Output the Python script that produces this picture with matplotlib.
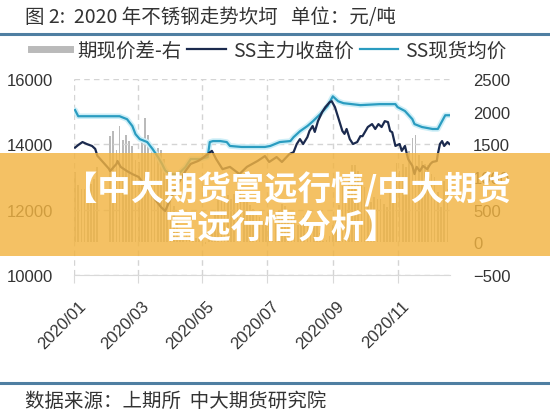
import pandas as pd
import matplotlib
matplotlib.use('Agg')
import matplotlib.pyplot as plt
import matplotlib.transforms as mtransforms
from matplotlib.lines import Line2D
from matplotlib.patches import Rectangle

plt.rcParams['font.family'] = ['Noto Sans CJK SC', 'DejaVu Sans']

# SS main contract close (left axis)
fut_dates = ['01-02', '01-05', '01-09', '01-13', '01-18', '01-21', '01-23', '02-03', '02-04',
             '02-10', '02-11', '02-14', '02-20', '02-25', '03-02', '03-09', '03-13', '03-17',
             '03-23', '03-27', '04-01', '04-08', '04-15', '04-20', '04-27', '04-30', '05-06',
             '05-10', '05-14', '05-20', '05-27', '06-05', '06-12', '06-22', '06-29', '07-03',
             '07-10', '07-15', '07-22', '07-26', '07-29', '08-01', '08-04', '08-08', '08-10',
             '08-13', '08-15', '08-18', '08-22', '08-25', '08-29', '08-31', '09-03', '09-06',
             '09-10', '09-12', '09-14', '09-17', '09-20', '09-24', '09-27', '09-29', '10-04',
             '10-08', '10-11', '10-14', '10-17', '10-20', '10-23', '10-25', '10-27', '10-30',
             '11-03', '11-05', '11-08', '11-11', '11-15', '11-17', '11-19', '11-22', '11-25',
             '11-29', '12-02', '12-04', '12-08', '12-09', '12-11', '12-13', '12-15', '12-18',
             '12-20']
fut_close = [13900, 13980, 14070, 14010, 13950, 13860, 13650, 13250, 13180,
             13400, 13490, 13310, 13180, 13090, 13000, 12690, 12540, 12330,
             12080, 11960, 12330, 12790, 13180, 13400, 13490, 13550, 13700,
             13800, 13550, 13240, 13310, 13090, 13310, 13490, 13640, 13460,
             13610, 13460, 13700, 13760, 14010, 14160, 14010, 14220, 14410,
             14560, 14380, 14710, 14990, 15140, 15290, 15320, 15140, 14830,
             14410, 14320, 14470, 14160, 14010, 14070, 14250, 14250, 14530,
             14620, 14470, 14620, 14530, 14710, 14680, 14410, 14370, 13950,
             14010, 13800, 13950, 13550, 13340, 13090, 13310, 13180, 13340,
             13240, 13400, 13460, 13490, 13700, 14010, 14100, 13950, 14070,
             14010]

# SS spot average price (left axis)
spot_dates = ['01-02', '01-05', '01-23', '02-03', '02-13', '02-20', '02-25', '02-28', '03-03',
              '03-10', '03-15', '03-20', '03-24', '03-27', '04-01', '04-08', '04-15', '04-20',
              '04-29', '05-06', '05-08', '05-11', '05-18', '05-24', '05-27', '06-07', '06-29',
              '07-04', '07-13', '07-23', '07-26', '08-01', '08-08', '08-13', '08-20', '08-27',
              '09-01', '09-06', '09-11', '09-27', '10-15', '10-30', '11-01', '11-08', '11-15',
              '11-17', '11-24', '12-04', '12-09', '12-13', '12-16', '12-20']
spot_avg = [15050, 14860, 14860, 14860, 14860, 14770, 14560, 14310, 14160,
            14070, 13860, 13620, 13400, 13200, 13080, 13080, 13300, 13550,
            13550, 13610, 14070, 14100, 14100, 14070, 13950, 13920, 13920,
            13950, 14070, 14100, 14220, 14400, 14560, 14700, 14920, 15170,
            15470, 15320, 15260, 15200, 15230, 15230, 15140, 15020, 14770,
            14620, 14530, 14470, 14470, 14710, 14890, 14890]

# spot-futures basis (right axis)
basis_dates = ['01-02', '01-05', '01-08', '01-11', '01-14', '01-17', '01-20', '01-23',
               '02-04', '02-07', '02-10', '02-13', '02-16', '02-19', '02-22', '02-25', '02-28',
               '03-02', '03-05', '03-08', '03-11', '03-14', '03-17', '03-20', '03-23', '03-26',
               '03-29', '04-01', '04-04', '04-07', '04-10', '04-13', '04-16', '04-19', '04-22',
               '04-25', '04-28', '05-01', '05-04', '05-07', '05-10', '05-13', '05-16', '05-19',
               '05-22', '05-25', '05-28', '05-31', '06-03', '06-06', '06-09', '06-12', '06-15',
               '06-18', '06-21', '06-24', '06-27', '06-30', '07-03', '07-06', '07-09', '07-12',
               '07-15', '07-18', '07-21', '07-24', '07-27', '07-30', '08-02', '08-05', '08-08',
               '08-11', '08-14', '08-17', '08-20', '08-23', '08-26', '08-29', '09-01', '09-04',
               '09-07', '09-10', '09-13', '09-16', '09-19', '09-22', '09-25', '09-28', '10-01',
               '10-04', '10-07', '10-10', '10-13', '10-16', '10-19', '10-22', '10-25', '10-28',
               '10-31', '11-03', '11-06', '11-09', '11-12', '11-15', '11-18', '11-21', '11-24',
               '11-27', '11-30', '12-03', '12-06', '12-09', '12-12', '12-15', '12-18']
basis = [1080, 880, 810, 820, 860, 900, 970, 1160,
         1620, 1700, 1410, 1780, 1560, 1650, 1550, 1470, 1260,
         1230, 1600, 1900, 1650, 1400, 1430, 1440, 1410, 1270,
         1050, 750, 550, 360, 200, 180, 130, 150, 110,
         70, 50, 30, -20, 120, 300, 490, 650, 800,
         820, 730, 670, 740, 810, 810, 720, 630, 570,
         510, 450, 390, 320, 330, 450, 460, 450, 490,
         590, 560, 470, 420, 420, 270, 310, 410, 340,
         150, 260, 260, 140, 20, 30, 90, 270, 380,
         570, 860, 860, 990, 1180, 1190, 1090, 960, 850,
         690, 620, 700, 660, 670, 580, 540, 820, 1000,
         1210, 1090, 1200, 1160, 1400, 1600, 1650, 1340, 1240,
         1200, 1180, 1040, 1000, 770, 540, 940, 820]

tick_dates = ['01-01', '03-01', '05-01', '07-01', '09-01', '11-01']
tick_labels = ['2020/01', '2020/03', '2020/05', '2020/07', '2020/09', '2020/11']


def to_dt(days):
    return pd.to_datetime(['2020-' + d for d in days])


W, H = 550, 410
fig = plt.figure(figsize=(5.5, 4.1), dpi=100)
ax = fig.add_axes([74 / W, 1 - 276 / H, (449.5 - 74) / W, 196 / H])
ax2 = ax.twinx()
ax.set_zorder(ax2.get_zorder() + 1)
ax.patch.set_visible(False)

ax2.bar(to_dt(basis_dates), basis, width=1.6, color='#bababa', zorder=2)
ax.plot(to_dt(spot_dates), spot_avg, color='#cdeef7', lw=4, zorder=3, solid_capstyle='round')
ax.plot(to_dt(spot_dates), spot_avg, color='#2a9cc0', lw=1.6, zorder=4)
ax.plot(to_dt(fut_dates), fut_close, color='#1b2a4e', lw=1.6, zorder=5)

ax.set_ylim(10000, 16000)
ax.set_yticks(range(10000, 16001, 2000))
ax2.set_ylim(-500, 2500)
ax2.set_yticks(range(-500, 2501, 500))
ax.set_xlim(pd.Timestamp('2020-01-01'), pd.Timestamp('2020-12-20'))
ax.set_xticks(to_dt(tick_dates))
ax.set_xticklabels(tick_labels, rotation=45, ha='right', rotation_mode='anchor')

ax.grid(True, ls=(0, (4, 3)), color='#d4d4d4', lw=1)
for s in ['left', 'right', 'top']:
    ax.spines[s].set_visible(False)
ax.spines['bottom'].set_color('#d9d9d9')
for s in ax2.spines.values():
    s.set_visible(False)

ax.tick_params(axis='y', length=0, pad=15, labelsize=12, labelcolor='#333333')
ax.tick_params(axis='x', length=6, color='#d9d9d9', pad=8, labelsize=12, labelcolor='#333333')
ax2.tick_params(axis='y', length=0, pad=17, labelsize=12, labelcolor='#333333')
shift = mtransforms.ScaledTranslation(4 / 100, -3 / 100, fig.dpi_scale_trans)
for lab in ax.get_xticklabels():
    lab.set_transform(lab.get_transform() + shift)
for lab in ax.get_xticklabels() + ax.get_yticklabels() + ax2.get_yticklabels():
    lab.set_family('Liberation Sans')

# legend
handles = [Line2D([], [], color='#bababa', lw=5),
           Line2D([], [], color='#1b2a4e', lw=1.6),
           Line2D([], [], color='#2a9cc0', lw=1.6)]
fig.legend(handles, ['期现价差-右', 'SS主力收盘价', 'SS现货均价'], ncol=3,
           loc='center', bbox_to_anchor=(269 / W, 1 - 51 / H), frameon=False,
           fontsize=14, handlelength=2.0, handletextpad=0.35, columnspacing=0.3,
           labelcolor='#333333')

# title, rules, source
fig.text(25 / W, 1 - 17 / H, '图 2:  2020 年不锈钢走势坎坷   单位：元/吨',
         fontsize=14, color='#333333', va='center', ha='left')
fig.add_artist(Line2D([0, 1], [1 - 35 / H] * 2, transform=fig.transFigure,
                      color='#4f7fa2', lw=2.2))
fig.add_artist(Line2D([0, 1], [1 - 384 / H] * 2, transform=fig.transFigure,
                      color='#4f7fa2', lw=2.2))
fig.text(25 / W, 1 - 401 / H, '数据来源：上期所  中大期货研究院',
         fontsize=14, color='#333333', va='center', ha='left')

# overlay banner
fig.add_artist(Rectangle((0, 1 - 257 / H), 1, 103 / H, transform=fig.transFigure,
                         facecolor='#f2b442', alpha=0.82, edgecolor='none', zorder=10))
fig.text(287 / W, 1 - 190 / H, '【中大期货富远行情/中大期货', fontsize=24,
         fontweight='bold', color='white', ha='center', va='center', zorder=11)
fig.text(281 / W, 1 - 229 / H, '富远行情分析】', fontsize=24,
         fontweight='bold', color='white', ha='center', va='center', zorder=11)

fig.savefig('out.png', dpi=100)
